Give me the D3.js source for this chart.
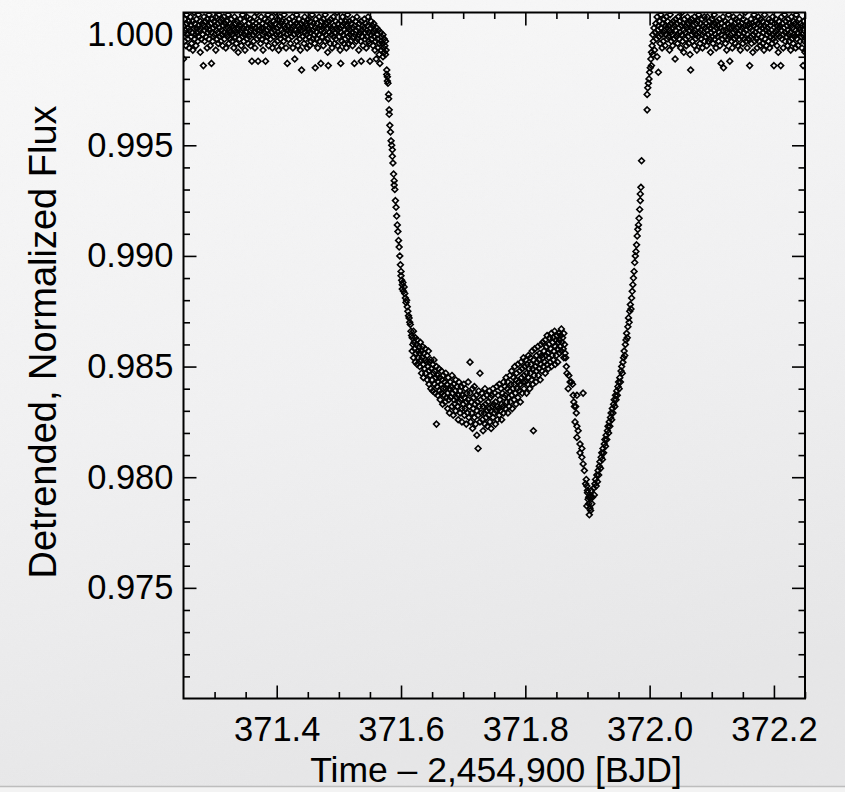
<!DOCTYPE html>
<html><head><meta charset="utf-8">
<script src="https://cdn.jsdelivr.net/npm/d3@7"></script>
<style>html,body{margin:0;padding:0;background:#f1f1f2;}svg{display:block}</style>
</head><body><svg id="chart" width="845" height="792"></svg>
<script>
// ---- Data ----
// Each point: [t, d]  t = thousandths of a day after 371 (axis value 371 + t/1000)
//                     d = flux deviation from 1 in units of 1e-4 (flux = 1 + d/10000)
const preTransit = [[250,4],[250,-11],[251,1],[252,7],[252,-3],[253,2],[254,-5],[255,5],[255,9],[256,0],[257,-2],[258,6],[258,3],[259,-6],
[260,2],[261,8],[262,-1],[262,4],[263,-4],[264,1],[265,6],[265,-7],[266,3],[267,10],[268,-2],[268,5],[269,0],
[270,-5],[271,3],[271,7],[272,1],[273,-3],[274,9],[274,4],[275,-1],[276,2],[277,-8],[277,6],[278,3],[279,-2],
[280,5],[281,0],[282,-14],[282,4],[283,8],[284,-3],[284,2],[285,6],[286,-1],[287,3],[288,-6],[288,7],[289,1],
[290,4],[291,-2],[291,9],[292,2],[293,-5],[294,5],[295,-13],[295,1],[296,7],[297,-3],[298,3],[298,-1],[299,6],
[300,0],[301,4],[302,-7],[302,8],[303,2],[304,-2],[305,5],[305,1],[306,-4],[307,9],[308,3],[308,-1],[309,6],
[310,-3],[311,2],[312,7],[312,0],[313,-5],[314,4],[315,1],[315,8],[316,-2],[317,5],[318,-6],[318,3],[319,0],
[320,6],[321,-1],[322,3],[322,9],[323,-4],[324,2],[325,5],[325,-2],[326,1],[327,7],[328,-3],[328,4],[329,0],
[330,3],[331,-6],[332,8],[332,2],[333,-1],[334,5],[335,1],[335,-4],[336,6],[337,0],[338,3],[338,-8],[339,4],
[340,-2],[341,7],[342,1],[342,4],[343,-5],[344,2],[345,9],[345,-1],[346,3],[347,-3],[348,6],[348,0],[349,-7],
[350,4],[351,1],[352,-2],[352,8],[353,3],[354,-4],[355,5],[355,0],[356,-1],[357,7],[358,2],[358,-5],[359,3],
[360,-12],[361,6],[362,0],[362,4],[363,-3],[364,8],[365,1],[365,-6],[366,3],[367,5],[368,-2],[368,10],[369,2],
[370,-12],[371,4],[372,-1],[372,6],[373,2],[374,-4],[375,8],[375,3],[376,-2],[377,5],[378,0],[378,-7],[379,3],
[380,1],[381,7],[382,-12],[382,4],[383,-3],[384,2],[385,6],[385,-1],[386,9],[387,-5],[388,3],[388,0],[389,5],
[390,-2],[391,4],[392,8],[392,1],[393,-6],[394,3],[395,-1],[395,6],[396,2],[397,-4],[398,5],[398,10],[399,0],
[400,3],[401,-3],[402,7],[402,1],[403,-7],[404,4],[405,0],[405,8],[406,-2],[407,5],[408,2],[408,-5],[409,6],
[410,1],[411,-3],[412,4],[412,9],[413,-1],[414,3],[415,-6],[415,6],[416,0],[417,-13],[418,4],[418,2],[419,-2],
[420,7],[421,1],[422,-4],[422,5],[423,2],[424,-1],[425,8],[425,3],[426,-6],[427,4],[428,0],[428,6],[429,-11],
[430,2],[431,5],[432,-3],[432,9],[433,1],[434,-5],[435,4],[435,0],[436,7],[437,-2],[438,3],[438,-7],[439,5],
[440,-16],[441,2],[442,6],[442,-1],[443,3],[444,-4],[445,8],[445,1],[446,-2],[447,5],[448,0],[448,4],[449,-6],
[450,3],[451,7],[452,-1],[452,2],[453,-5],[454,6],[455,1],[455,-3],[456,4],[457,9],[458,-2],[458,2],[459,5],
[460,0],[461,-4],[462,-15],[462,3],[463,7],[464,1],[465,-2],[465,5],[466,-6],[467,3],[468,8],[468,0],[469,-3],
[470,4],[471,-13],[472,2],[472,6],[473,-1],[474,3],[475,-5],[475,7],[476,1],[477,4],[478,-3],[478,9],[479,0],
[480,5],[481,-2],[482,3],[482,-8],[483,-14],[484,6],[485,1],[485,4],[486,-4],[487,7],[488,0],[488,3],[489,-6],
[490,2],[491,8],[492,-1],[492,4],[493,-4],[494,1],[495,6],[495,-2],[496,3],[497,10],[498,-5],[498,2],[499,5],
[500,-1],[501,3],[502,-7],[503,-13],[503,6],[504,1],[505,-3],[505,4],[506,8],[507,0],[508,-4],[508,5],[509,2],
[510,-2],[511,6],[512,1],[512,-6],[513,4],[514,9],[515,-1],[515,3],[516,-4],[517,6],[518,0],[518,2],[519,-3],
[520,5],[521,1],[522,-5],[522,7],[523,3],[524,-1],[525,-13],[525,4],[526,0],[527,6],[528,-3],[528,2],[529,8],
[530,-2],[531,3],[532,0],[532,-7],[533,5],[534,1],[535,-3],[536,-12],[536,6],[537,2],[538,-1],[538,4],[539,-5],
[540,3],[541,7],[542,-2],[542,1],[543,5],[544,-6],[545,2],[545,-1],[546,4],[547,8],[548,-3],[548,1],[549,-4],
[550,-12],[551,3],[552,0],[552,6],[553,-2],[554,4],[555,-5],[555,1],[556,5],[557,-1],[558,-7],[558,2],[559,-3],
[560,-11],[561,3],[562,-2],[562,0],[563,-6],[564,2],[565,-4],[565,-9],[566,-13],[567,1],[568,-3],[568,-7],[569,-1],
[570,-4],[571,-10],[571,0],[572,-6],[573,-2],[573,-8],[574,-5],[575,-9],[575,-3],[576,-7]];

const ingress = [[577,-16],[577,-18],[578,-19],[578,-21],[579,-22],[580,-27],[580,-29],[581,-34],[581,-36],[582,-41],
[583,-44],[584,-48],[585,-50],[586,-52],[586,-55],[587,-58],[588,-63],[589,-66],[589,-68],[590,-70],[591,-75],[592,-78],
[593,-82],[594,-86],[595,-89],[596,-93],[597,-96],[598,-100],[599,-104],[600,-107],[600,-109],[601,-111],[602,-113],
[602,-115],[603,-112],[604,-116],[605,-114],[606,-117],[607,-119],[608,-121],[609,-120],[610,-123],[611,-125],[612,-127],
[613,-128],[614,-130],[615,-131],[616,-134],[617,-136]];

const transitFloor = [[618,-137],[618,-143],[619,-140],[620,-134],[620,-146],[621,-139],[622,-142],[623,-148],[623,-137],[624,-144],[625,-140],[626,-138],[626,-149],[627,-143],[628,-146],[629,-141],
[630,-150],[630,-144],[631,-139],[632,-147],[633,-143],[633,-153],[634,-146],[635,-141],[636,-149],[636,-155],[637,-144],[638,-151],[639,-147],[639,-142],
[640,-153],[641,-148],[642,-145],[642,-156],[643,-150],[644,-143],[645,-152],[645,-158],[646,-148],[647,-154],[648,-147],[648,-160],[649,-151],
[650,-156],[651,-149],[651,-161],[652,-153],[653,-147],[654,-158],[654,-152],[655,-162],[656,-155],[657,-176],[657,-150],[658,-159],[659,-154],[659,-163],
[660,-157],[661,-151],[662,-161],[662,-155],[663,-165],[664,-158],[665,-152],[665,-162],[666,-156],[667,-167],[668,-160],[668,-154],[669,-163],
[670,-157],[671,-166],[672,-160],[672,-153],[673,-164],[674,-158],[675,-169],[675,-162],[676,-155],[677,-165],[678,-160],[678,-171],[679,-157],
[680,-164],[681,-159],[682,-168],[682,-154],[683,-162],[684,-172],[685,-165],[685,-158],[686,-167],[687,-161],[688,-170],[688,-156],[689,-164],
[690,-159],[691,-168],[692,-163],[692,-174],[693,-157],[694,-166],[695,-161],[695,-171],[696,-165],[697,-159],[698,-169],[698,-175],[699,-163],
[700,-167],[701,-158],[702,-172],[702,-164],[703,-169],[704,-160],[705,-176],[705,-166],[706,-162],[707,-171],[708,-165],[708,-157],[709,-173],
[710,-168],[711,-148],[711,-162],[712,-175],[713,-166],[714,-171],[715,-160],[715,-178],[716,-169],[717,-164],[718,-173],[718,-159],[719,-167],
[720,-176],[721,-163],[722,-170],[722,-181],[723,-166],[724,-187],[724,-172],[725,-161],[726,-168],[727,-153],[727,-175],[728,-165],[729,-171],
[730,-162],[731,-174],[732,-168],[732,-179],[733,-164],[734,-171],[735,-160],[735,-176],[736,-167],[737,-173],[738,-163],[738,-170],[739,-177],
[740,-166],[741,-172],[742,-161],[742,-169],[743,-175],[744,-164],[745,-170],[745,-178],[746,-163],[747,-168],[748,-173],[748,-160],[749,-167],
[750,-171],[751,-162],[752,-176],[752,-166],[753,-170],[754,-159],[755,-168],[755,-174],[756,-163],[757,-169],[758,-158],[758,-172],[759,-165],
[760,-170],[761,-160],[762,-167],[762,-174],[763,-162],[764,-168],[765,-157],[765,-171],[766,-164],[767,-159],[768,-169],[768,-163],[769,-155],
[770,-166],[771,-160],[772,-171],[772,-157],[773,-164],[774,-168],[775,-154],[775,-161],[776,-166],[777,-158],[778,-163],[778,-152],[779,-169],
[780,-160],[781,-155],[782,-165],[782,-158],[783,-150],[784,-162],[785,-156],[785,-167],[786,-153],[787,-160],[788,-164],[788,-149],[789,-157],
[790,-161],[791,-152],[792,-158],[792,-166],[793,-148],[794,-155],[795,-162],[795,-151],[796,-157],[797,-146],[798,-160],[798,-154],[799,-150],
[800,-157],[801,-147],[802,-162],[802,-153],[803,-149],[804,-158],[805,-145],[805,-155],[806,-151],[807,-160],[808,-146],[808,-153],[809,-149],
[810,-156],[811,-143],[812,-151],[812,-158],[813,-179],[813,-147],[814,-154],[815,-142],[816,-150],[817,-157],[818,-145],[818,-152],[819,-148],
[820,-141],[821,-154],[822,-147],[822,-151],[823,-144],[824,-156],[825,-140],[825,-149],[826,-145],[827,-152],[828,-139],[828,-146],[829,-150],
[830,-143],[831,-148],[832,-138],[832,-153],[833,-145],[834,-141],[835,-149],[835,-136],[836,-144],[837,-151],[838,-140],[838,-146],[839,-137],
[840,-148],[841,-142],[842,-135],[842,-150],[843,-145],[844,-139],[845,-147],[845,-137],[846,-143],[847,-134],[848,-149],[848,-141],[849,-138],
[850,-145],[851,-136],[852,-142],[852,-148],[853,-139],[854,-135],[855,-144],[855,-138],[856,-141],[857,-136],[858,-133],[858,-143],[859,-139],
[860,-137],[861,-142],[862,-135],[862,-146],[863,-140],[864,-144]];

const spotDip = [[865,-146],[866,-150],[867,-153],[869,-160],[870,-154],[872,-157],[874,-157],[876,-158],[877,-163],[878,-166],
[879,-168],[881,-168],[882,-171],[880,-175],[883,-163],[883,-177],[885,-179],[883,-182],[888,-185],[891,-187],[888,-189],
[891,-191],[893,-162],[893,-194],[895,-197],[898,-201],[899,-204],[900,-207],[901,-210],[899,-213],[903,-217],[902,-212],
[904,-214],[905,-209],[906,-206],[897,-203],[900,-206],[902,-209],[905,-215],[907,-212],[908,-209],[910,-205],[911,-208],[912,-203],
[913,-201],[914,-204],[915,-199],[916,-202],[917,-197],[918,-199],[919,-195],[920,-193],[921,-196],[922,-191],[923,-189],
[924,-192],[925,-187],[926,-189],[927,-185],[928,-183],[929,-186],[930,-181],[931,-183],[932,-179],[933,-177],[934,-180],
[935,-175],[936,-177],[937,-173],[938,-171],[939,-174],[940,-169],[941,-171],[942,-167],[943,-165],[944,-168],[945,-163],
[946,-165],[947,-161],[948,-163],[949,-159],[950,-157],[951,-160],[952,-155],[953,-157],[954,-152],[955,-150],[956,-153],
[957,-148],[958,-146],[959,-143],[960,-145],[961,-140],[962,-138],[963,-135],[964,-137],[965,-132],[966,-128],[967,-130],
[968,-125],[969,-122],[970,-124],[971,-119],[972,-116],[973,-113],[974,-110],[975,-107],[976,-103],[977,-100]];

const egress = [[978,-98],[979,-95],[980,-91],[981,-88],[982,-86],[983,-83],[984,-79],[985,-75],[985,-72],[986,-69],[987,-57],
[996,-34],[996,-27],[997,-24],[998,-22],[999,-20],[1000,-17],[1001,-15],[1002,-11]];

const postTransit = [[1003,-8],[1003,-14],[1004,-5],[1005,-9],[1005,0],[1006,-3],[1007,3],[1008,-7],[1009,1],
[1010,5],[1011,-2],[1012,8],[1012,-10],[1013,2],[1014,-17],[1014,4],[1015,-1],[1016,6],[1017,-4],[1018,3],[1018,9],[1019,0],
[1020,-6],[1021,5],[1022,1],[1022,-3],[1023,7],[1024,2],[1025,-5],[1025,4],[1026,0],[1027,8],[1028,-2],[1028,3],[1029,6],
[1030,-1],[1031,4],[1032,-7],[1032,2],[1033,9],[1034,1],[1035,-3],[1035,5],[1036,0],[1037,-5],[1038,6],[1038,3],[1039,-2],
[1040,4],[1041,-11],[1042,2],[1042,7],[1043,-1],[1044,5],[1045,0],[1045,-4],[1046,8],[1047,3],[1048,-2],[1048,6],[1049,1],
[1050,-6],[1051,4],[1052,10],[1052,0],[1053,-3],[1054,5],[1055,2],[1055,-8],[1056,7],[1057,1],[1058,-2],[1058,4],[1059,-5],
[1060,3],[1061,8],[1062,-1],[1062,5],[1063,-4],[1064,2],[1065,6],[1065,-9],[1066,-16],[1067,3],[1068,0],[1068,7],[1069,-3],
[1070,4],[1071,1],[1072,-5],[1072,8],[1073,2],[1074,-2],[1075,5],[1075,0],[1076,-7],[1077,6],[1078,3],[1078,-1],[1079,9],
[1080,1],[1081,-4],[1082,5],[1082,2],[1083,-2],[1084,7],[1085,0],[1085,-6],[1086,4],[1087,1],[1088,-3],[1088,8],[1089,3],
[1090,-1],[1091,5],[1092,-5],[1092,2],[1093,8],[1094,0],[1095,-3],[1095,4],[1096,6],[1097,-2],[1098,3],[1098,-8],[1099,1],
[1100,7],[1101,-1],[1102,4],[1102,-4],[1103,2],[1104,9],[1105,-2],[1105,5],[1106,0],[1107,-6],[1108,3],[1108,6],[1109,-1],
[1110,4],[1111,-3],[1112,1],[1112,7],[1113,-5],[1114,3],[1115,-13],[1115,0],[1116,5],[1117,-2],[1118,8],[1118,2],[1119,-15],
[1120,4],[1121,-1],[1122,6],[1122,-4],[1123,2],[1124,-7],[1125,5],[1125,1],[1126,-2],[1127,9],[1128,3],[1128,-1],[1129,-12],
[1130,0],[1131,6],[1132,-3],[1132,3],[1133,-6],[1134,4],[1135,1],[1135,8],[1136,-2],[1137,5],[1138,-4],[1138,2],[1139,7],
[1140,-1],[1141,3],[1142,-5],[1142,6],[1143,0],[1144,-2],[1145,8],[1145,4],[1146,-7],[1147,2],[1148,5],[1148,-1],[1149,3],
[1150,-4],[1151,7],[1152,1],[1152,-2],[1153,4],[1154,10],[1155,-3],[1155,2],[1156,6],[1157,-6],[1158,0],[1158,4],[1159,-2],
[1160,5],[1161,-14],[1162,3],[1162,-1],[1163,7],[1164,-4],[1165,2],[1165,5],[1166,-8],[1167,0],[1168,4],[1168,9],[1169,-3],
[1170,1],[1171,6],[1172,-2],[1172,3],[1173,-6],[1174,5],[1175,0],[1175,8],[1176,-3],[1177,2],[1178,-5],[1178,4],[1179,7],
[1180,-1],[1181,3],[1182,-4],[1182,6],[1183,1],[1184,-7],[1185,4],[1185,9],[1186,-2],[1187,2],[1188,-5],[1188,5],[1189,0],
[1190,3],[1191,-3],[1192,7],[1192,1],[1193,-6],[1194,4],[1195,-1],[1195,6],[1196,2],[1197,-4],[1198,8],[1198,0],[1199,-2],
[1200,-14],[1201,5],[1202,1],[1202,-3],[1203,7],[1204,2],[1205,-5],[1205,4],[1206,0],[1207,-8],[1208,6],[1208,3],[1209,-1],
[1210,4],[1211,-14],[1212,2],[1212,8],[1213,-2],[1214,5],[1215,0],[1215,-6],[1216,3],[1217,9],[1218,-3],[1218,1],[1219,6],
[1220,-1],[1221,4],[1222,-5],[1222,2],[1223,7],[1224,0],[1225,-3],[1225,5],[1226,1],[1227,-7],[1228,4],[1228,8],[1229,-2],
[1230,3],[1231,-4],[1232,6],[1232,0],[1233,-1],[1234,5],[1235,-6],[1235,2],[1236,9],[1237,-2],[1238,4],[1238,1],[1239,-5],
[1240,3],[1241,7],[1242,-3],[1242,2],[1243,5],[1244,-1],[1245,-6],[1245,4],[1246,0],[1247,-14],[1248,6],[1248,2],[1249,-3],[1250,4],[1250,-8]];

// ---- Axes ----
const xDomain = [371.25, 372.25];
const yDomain = [0.970, 1.001];
const xTickValues = [371.4, 371.6, 371.8, 372.0, 372.2];
const xTickLabels = ["371.4", "371.6", "371.8", "372.0", "372.2"];
const xMinorTicks = [371.3, 371.35, 371.45, 371.5, 371.55, 371.65, 371.7, 371.75, 371.85, 371.9, 371.95, 372.05, 372.1, 372.15, 372.25];
const yTickValues = [0.975, 0.980, 0.985, 0.990, 0.995, 1.000];
const yTickLabels = ["0.975", "0.980", "0.985", "0.990", "0.995", "1.000"];
const yMinorTicks = [0.971, 0.972, 0.973, 0.974, 0.976, 0.977, 0.978, 0.979, 0.981, 0.982, 0.983, 0.984, 0.986, 0.987, 0.988, 0.989,
  0.991, 0.992, 0.993, 0.994, 0.996, 0.997, 0.998, 0.999];
const xTitle = "Time \u2013 2,454,900 [BJD]";
const yTitle = "Detrended, Normalized Flux";

// ---- Layout ----
const W = 845, H = 792;
const plot = {left: 183.5, top: 12.5, right: 805, bottom: 698.5};
const FONT = "'Liberation Sans', Arial, Helvetica, sans-serif";

const svg = d3.select("#chart");
const defs = svg.append("defs");
const bg = defs.append("linearGradient").attr("id", "bg").attr("x1", 0).attr("y1", 0).attr("x2", 0.25).attr("y2", 1);
bg.append("stop").attr("offset", "0%").attr("stop-color", "#f9f9f9");
bg.append("stop").attr("offset", "55%").attr("stop-color", "#f1f1f2");
bg.append("stop").attr("offset", "100%").attr("stop-color", "#e7e7e8");
const filt = defs.append("filter").attr("id", "grain").attr("x", 0).attr("y", 0).attr("width", 1).attr("height", 1);
filt.append("feTurbulence").attr("type", "fractalNoise").attr("baseFrequency", "0.9").attr("numOctaves", 2).attr("seed", 3).attr("result", "n");
filt.append("feColorMatrix").attr("in", "n").attr("type", "matrix")
  .attr("values", "0 0 0 0 0.5  0 0 0 0 0.5  0 0 0 0 0.52  0 0 0 0.05 0");
defs.append("clipPath").attr("id", "plotclip").append("rect")
  .attr("x", plot.left).attr("y", plot.top).attr("width", plot.right - plot.left).attr("height", plot.bottom - plot.top);

svg.append("rect").attr("width", W).attr("height", H).attr("fill", "url(#bg)");
svg.append("rect").attr("width", W).attr("height", H).attr("filter", "url(#grain)").attr("opacity", 0.8);
// bottom strip
svg.append("rect").attr("x", 0).attr("y", 786).attr("width", W).attr("height", H - 786).attr("fill", "#f3f3f3");
svg.append("line").attr("x1", 0).attr("x2", W).attr("y1", 786.5).attr("y2", 786.5).attr("stroke", "#bdbdbd").attr("stroke-width", 1.5);

const x = d3.scaleLinear().domain(xDomain).range([plot.left, plot.right]);
const y = d3.scaleLinear().domain(yDomain).range([plot.bottom, plot.top]);

// ---- Points ----
const points = [].concat(preTransit, ingress, transitFloor, spotDip, egress, postTransit)
  .map(([t, d]) => ({time: 371 + t / 1000, flux: 1 + d / 10000}));
const r = 2.9;
const diamond = `M0,${-r}L${r},0L0,${r}L${-r},0Z`;
svg.append("g").attr("clip-path", "url(#plotclip)")
  .selectAll("path").data(points).join("path")
  .attr("d", diamond)
  .attr("transform", d => `translate(${x(d.time)},${y(d.flux)})`)
  .attr("fill", "none").attr("stroke", "#000").attr("stroke-width", 1.6);

// ---- Axes ----
const MAJ = 13, MIN = 6.5;
function styleAxis(g) {
  g.select(".domain").remove();
  g.selectAll(".tick line").attr("stroke", "#000").attr("stroke-width", 1.6);
  g.selectAll("text").attr("font-family", FONT).attr("font-size", 34.5).attr("fill", "#000");
}
svg.append("g").attr("transform", `translate(0,${plot.bottom})`)
  .call(d3.axisBottom(x).tickValues(xTickValues).tickFormat((d, i) => xTickLabels[i]).tickSize(-MAJ).tickPadding(18))
  .call(styleAxis);
svg.append("g").attr("transform", `translate(0,${plot.bottom})`)
  .call(d3.axisBottom(x).tickValues(xMinorTicks).tickFormat("").tickSize(-MIN)).call(styleAxis);
svg.append("g").attr("transform", `translate(0,${plot.top})`)
  .call(d3.axisTop(x).tickValues(xTickValues).tickFormat("").tickSize(-MAJ)).call(styleAxis);
svg.append("g").attr("transform", `translate(0,${plot.top})`)
  .call(d3.axisTop(x).tickValues(xMinorTicks).tickFormat("").tickSize(-MIN)).call(styleAxis);
svg.append("g").attr("transform", `translate(${plot.left},0)`)
  .call(d3.axisLeft(y).tickValues(yTickValues).tickFormat((d, i) => yTickLabels[i]).tickSize(-MAJ).tickPadding(10))
  .call(styleAxis);
svg.append("g").attr("transform", `translate(${plot.left},0)`)
  .call(d3.axisLeft(y).tickValues(yMinorTicks).tickFormat("").tickSize(-MIN)).call(styleAxis);
svg.append("g").attr("transform", `translate(${plot.right},0)`)
  .call(d3.axisRight(y).tickValues(yTickValues).tickFormat("").tickSize(-MAJ)).call(styleAxis);
svg.append("g").attr("transform", `translate(${plot.right},0)`)
  .call(d3.axisRight(y).tickValues(yMinorTicks).tickFormat("").tickSize(-MIN)).call(styleAxis);

// frame
svg.append("rect").attr("x", plot.left).attr("y", plot.top)
  .attr("width", plot.right - plot.left).attr("height", plot.bottom - plot.top)
  .attr("fill", "none").attr("stroke", "#000").attr("stroke-width", 2);

// titles
svg.append("text").attr("x", 496).attr("y", 782)
  .attr("text-anchor", "middle").attr("font-family", FONT).attr("font-size", 35.5).attr("fill", "#000")
  .text(xTitle);
svg.append("text").attr("transform", `translate(56,${342}) rotate(-90)`)
  .attr("text-anchor", "middle").attr("font-family", FONT).attr("font-size", 38).attr("fill", "#000")
  .text(yTitle);
</script></body></html>
